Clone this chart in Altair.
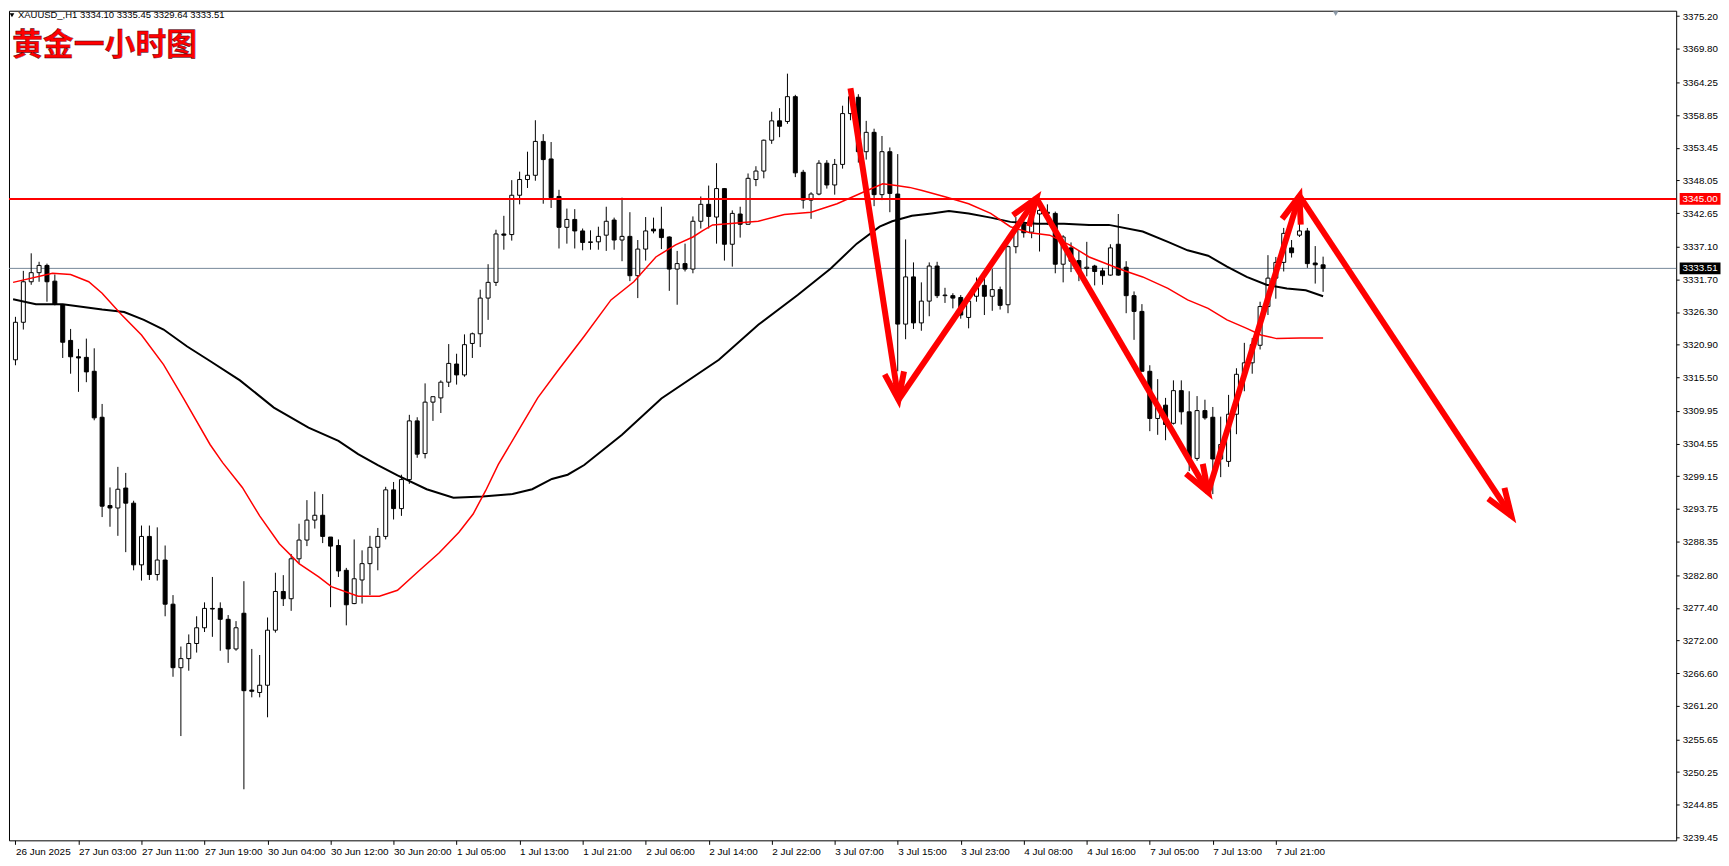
import math
import altair as alt
import pandas as pd

# ---------------- data (H1 candles, bar index 0..166) ----------------
opens = [3318.4, 3324.6, 3331.3, 3332.8, 3334.0, 3331.4, 3327.5, 3321.6, 3318.9, 3318.8,
         3316.5, 3308.9, 3294.3, 3293.9, 3297.2, 3294.7, 3284.5, 3289.2, 3282.9, 3285.3,
         3278.0, 3267.5, 3269.0, 3271.5, 3274.1, 3277.3, 3277.3, 3275.5, 3270.6, 3276.5,
         3263.8, 3263.4, 3264.6, 3273.7, 3280.1, 3278.9, 3285.5, 3288.6, 3291.9, 3292.7,
         3289.1, 3287.7, 3283.6, 3278.1, 3282.0, 3284.7, 3287.4, 3289.2, 3296.9, 3293.8,
         3298.6, 3308.3, 3302.9, 3311.4, 3312.1, 3314.7, 3317.7, 3315.9, 3321.1, 3322.7,
         3328.6, 3331.2, 3339.2, 3339.1, 3345.6, 3348.2, 3348.9, 3354.5, 3351.6, 3345.4,
         3340.3, 3341.6, 3339.7, 3337.8, 3337.9, 3339.0, 3341.5, 3338.2, 3338.8, 3332.3,
         3336.7, 3340.0, 3340.0, 3338.7, 3333.4, 3334.3, 3333.4, 3341.3, 3344.1, 3342.0,
         3346.7, 3337.5, 3342.5, 3340.8, 3348.2, 3349.6, 3354.7, 3357.9, 3357.8, 3361.9,
         3349.4, 3344.8, 3345.8, 3350.9, 3347.3, 3350.7, 3359.1, 3361.8, 3352.8, 3356.0,
         3345.7, 3352.8, 3345.8, 3324.3, 3332.1, 3324.5, 3328.1, 3333.9, 3329.0, 3329.0,
         3328.7, 3325.4, 3328.9, 3330.7, 3328.9, 3330.0, 3327.5, 3337.1, 3340.8, 3339.5,
         3342.5, 3342.8, 3342.6, 3334.2, 3336.9, 3334.8, 3333.5, 3333.9, 3333.1, 3332.4,
         3337.5, 3333.7, 3329.0, 3326.4, 3316.5, 3308.7, 3310.9, 3307.9, 3313.3, 3309.8,
         3302.1, 3310.0, 3308.9, 3302.0, 3301.6, 3309.4, 3316.0, 3317.9, 3320.8, 3327.2,
         3331.9, 3334.5, 3336.9, 3339.0, 3339.7, 3334.4, 3334.10]
highs = [3325.5, 3333.1, 3336.0, 3334.6, 3334.3, 3332.5, 3327.6, 3323.5, 3320.2, 3321.9,
         3320.3, 3311.1, 3297.3, 3300.7, 3299.7, 3295.1, 3291.0, 3291.0, 3290.7, 3287.7,
         3279.5, 3271.0, 3273.0, 3276.0, 3278.3, 3282.5, 3278.3, 3276.2, 3275.2, 3281.8,
         3270.6, 3269.6, 3275.8, 3283.2, 3282.8, 3286.3, 3291.3, 3295.2, 3296.6, 3296.2,
         3289.1, 3288.7, 3284.0, 3288.7, 3286.9, 3289.3, 3290.6, 3297.4, 3298.2, 3299.4,
         3309.3, 3308.9, 3314.5, 3312.3, 3315.0, 3321.0, 3319.4, 3322.6, 3322.9, 3330.0,
         3334.2, 3339.9, 3342.2, 3348.1, 3349.5, 3352.8, 3358.0, 3355.7, 3354.4, 3346.5,
         3343.4, 3343.3, 3340.1, 3339.8, 3340.4, 3343.7, 3341.9, 3345.2, 3342.8, 3338.2,
         3342.0, 3341.9, 3343.7, 3338.8, 3336.4, 3337.6, 3342.1, 3345.4, 3347.2, 3350.9,
         3346.8, 3343.1, 3343.7, 3349.2, 3350.4, 3354.8, 3359.4, 3360.0, 3365.7, 3362.2,
         3349.8, 3346.1, 3351.4, 3351.4, 3351.6, 3360.4, 3363.0, 3362.3, 3357.9, 3356.6,
         3355.4, 3353.5, 3352.4, 3338.3, 3334.5, 3331.2, 3334.5, 3334.6, 3330.3, 3329.4,
         3329.1, 3328.9, 3332.0, 3332.4, 3333.4, 3330.5, 3337.3, 3342.0, 3341.5, 3345.0,
         3344.2, 3344.1, 3342.9, 3339.0, 3337.8, 3336.4, 3337.9, 3334.1, 3333.6, 3337.5,
         3342.5, 3334.7, 3329.7, 3327.6, 3317.5, 3315.2, 3312.1, 3315.0, 3315.0, 3313.2,
         3312.4, 3311.8, 3310.6, 3309.0, 3312.6, 3317.0, 3321.2, 3322.0, 3328.0, 3335.7,
         3335.4, 3340.2, 3338.2, 3344.5, 3340.2, 3337.2, 3335.45]
lows = [3317.5, 3323.4, 3330.8, 3331.3, 3328.0, 3327.4, 3318.7, 3316.1, 3313.1, 3314.7,
        3308.4, 3292.4, 3290.8, 3289.3, 3286.6, 3283.6, 3281.9, 3282.0, 3281.9, 3276.0,
        3266.0, 3256.2, 3267.0, 3270.0, 3273.4, 3272.6, 3270.3, 3268.3, 3270.3, 3247.4,
        3262.6, 3262.6, 3259.3, 3273.3, 3277.7, 3276.9, 3284.7, 3287.6, 3290.5, 3288.1,
        3277.5, 3282.5, 3274.5, 3278.0, 3278.1, 3279.5, 3283.6, 3288.7, 3292.0, 3292.6,
        3297.9, 3302.2, 3302.1, 3308.3, 3309.6, 3313.9, 3314.3, 3315.6, 3318.7, 3320.5,
        3325.0, 3330.6, 3336.6, 3338.1, 3344.1, 3346.8, 3348.0, 3344.2, 3343.5, 3336.8,
        3337.6, 3336.8, 3336.5, 3336.6, 3336.6, 3336.4, 3336.6, 3334.7, 3331.4, 3328.6,
        3334.8, 3339.3, 3336.7, 3329.8, 3327.5, 3333.0, 3332.7, 3340.1, 3340.1, 3337.6,
        3334.8, 3333.8, 3338.6, 3340.8, 3347.1, 3348.4, 3354.1, 3355.2, 3357.4, 3348.6,
        3343.4, 3341.7, 3345.6, 3346.7, 3345.7, 3350.0, 3358.0, 3351.0, 3351.5, 3343.8,
        3344.8, 3342.8, 3316.5, 3321.8, 3323.5, 3323.2, 3325.6, 3328.6, 3327.8, 3326.9,
        3325.2, 3323.6, 3328.0, 3325.8, 3326.5, 3326.7, 3326.1, 3336.0, 3338.6, 3338.5,
        3336.3, 3340.7, 3332.7, 3331.2, 3332.9, 3331.4, 3332.2, 3330.7, 3330.8, 3332.3,
        3332.3, 3326.1, 3321.7, 3316.5, 3306.6, 3306.0, 3305.1, 3307.7, 3307.7, 3300.0,
        3301.7, 3308.5, 3296.2, 3299.0, 3300.7, 3306.1, 3313.2, 3316.1, 3320.1, 3325.8,
        3328.5, 3333.0, 3335.3, 3338.7, 3333.6, 3331.0, 3329.64]
closes = [3324.6, 3331.3, 3332.8, 3334.0, 3331.3, 3327.6, 3321.3, 3318.9, 3318.7, 3316.4,
          3308.8, 3294.2, 3293.9, 3297.0, 3294.7, 3284.5, 3289.2, 3282.9, 3285.3, 3278.0,
          3267.5, 3269.0, 3271.5, 3274.1, 3277.3, 3277.2, 3275.5, 3270.6, 3274.1, 3263.7,
          3263.6, 3264.6, 3273.7, 3280.1, 3278.9, 3285.5, 3288.6, 3291.9, 3292.7, 3289.2,
          3287.6, 3283.5, 3277.9, 3282.2, 3284.7, 3287.4, 3289.2, 3296.9, 3293.8, 3298.6,
          3308.3, 3302.8, 3311.4, 3312.3, 3314.7, 3317.8, 3315.9, 3320.9, 3322.7, 3328.6,
          3331.2, 3339.2, 3339.0, 3345.6, 3348.2, 3348.9, 3354.5, 3351.5, 3345.2, 3340.3,
          3341.6, 3339.7, 3337.8, 3337.9, 3338.8, 3341.3, 3338.2, 3338.8, 3332.3, 3336.7,
          3339.7, 3339.7, 3338.6, 3333.4, 3334.3, 3333.4, 3341.3, 3344.1, 3342.1, 3346.7,
          3337.5, 3342.6, 3340.8, 3348.4, 3349.6, 3354.7, 3357.9, 3357.0, 3361.9, 3349.3,
          3344.8, 3345.8, 3350.9, 3347.3, 3350.7, 3359.1, 3361.9, 3352.8, 3356.0, 3345.7,
          3352.8, 3345.9, 3324.3, 3332.1, 3324.5, 3328.1, 3333.9, 3329.0, 3329.1, 3328.6,
          3325.8, 3328.1, 3330.3, 3328.9, 3330.0, 3327.4, 3337.1, 3340.5, 3339.4, 3342.0,
          3343.1, 3342.6, 3334.2, 3338.7, 3334.7, 3333.0, 3333.7, 3333.0, 3332.3, 3336.9,
          3332.4, 3329.0, 3326.4, 3316.5, 3308.7, 3311.0, 3307.7, 3313.3, 3309.8, 3302.1,
          3310.0, 3308.8, 3302.0, 3304.4, 3309.4, 3316.0, 3317.9, 3320.9, 3327.2, 3331.9,
          3334.5, 3339.3, 3336.1, 3339.7, 3334.3, 3334.1, 3333.51]

# moving averages (bar index, price)
red_ma_bar = [-0.3, 4.7, 7.0, 9.3, 11.0, 13.5, 16.0, 18.8, 21.3, 24.7, 26.3, 28.8, 31.0, 33.5,
              36.0, 38.5, 40.1, 43.5, 46.2, 48.5, 51.3, 53.8, 56.3, 58.1, 59.7, 61.3, 63.8,
              66.3, 68.8, 72.2, 75.6, 78.5, 81.3, 83.8, 86.0, 87.2, 88.5, 94.3, 97.6, 101.0,
              104.3, 107.6, 110.1, 111.8, 113.5, 115.1, 118.1, 121.0, 123.8, 126.3, 128.8,
              131.3, 133.8, 136.3, 140.6, 143.1, 146.3, 148.8, 151.4, 153.8, 156.3, 158.1,
              160.1, 163.1, 166.0]
red_ma_val = [3331.2, 3332.7, 3332.5, 3331.3, 3329.4, 3325.8, 3322.5, 3317.6, 3312.1, 3304.4,
              3301.4, 3297.3, 3292.6, 3288.0, 3284.7, 3282.5, 3280.9, 3279.3, 3279.3, 3280.3,
              3283.6, 3286.5, 3289.9, 3292.9, 3296.8, 3301.1, 3306.6, 3312.1, 3316.5, 3322.3,
              3328.3, 3331.3, 3335.4, 3337.4, 3338.7, 3339.7, 3340.7, 3341.3, 3342.4, 3342.8,
              3344.2, 3346.1, 3347.5, 3347.2, 3346.9, 3346.4, 3345.3, 3344.2, 3342.6, 3340.4,
              3339.4, 3339.0, 3337.4, 3335.4, 3333.2, 3332.1, 3330.2, 3328.3, 3326.9, 3325.0,
              3323.6, 3322.5, 3321.9, 3322.0, 3322.0]
black_ma_bar = [-0.3, 2.6, 6.0, 11.0, 13.8, 16.3, 18.8, 21.8, 24.7, 28.5, 32.8, 37.2, 41.0,
                43.5, 46.0, 48.5, 52.2, 55.6, 59.3, 63.1, 65.6, 68.1, 70.1, 72.2, 77.0, 82.0,
                89.3, 94.3, 99.3, 103.5, 106.8, 109.7, 111.3, 113.8, 116.3, 118.5, 121.0,
                123.8, 126.3, 129.7, 133.1, 136.3, 138.8, 143.1, 146.3, 148.8, 151.4, 153.8,
                156.3, 158.8, 161.4, 163.8, 166.0]
black_ma_val = [3328.4, 3327.6, 3327.6, 3326.7, 3326.3, 3325.0, 3323.4, 3320.6, 3318.2, 3315.0,
                3310.5, 3307.2, 3305.0, 3302.8, 3301.0, 3299.3, 3297.0, 3295.6, 3295.8, 3296.2,
                3297.0, 3298.7, 3299.4, 3301.0, 3306.0, 3312.0, 3318.4, 3324.2, 3329.1, 3333.5,
                3337.6, 3340.4, 3341.3, 3342.2, 3342.6, 3343.0, 3342.6, 3341.9, 3341.2, 3340.9,
                3340.9, 3340.7, 3340.7, 3339.6, 3337.9, 3336.5, 3335.6, 3333.8, 3332.1, 3330.8,
                3330.2, 3329.9, 3328.9]

tick_bars = [0, 8, 16, 24, 32, 40, 48, 56, 64, 72, 80, 88, 96, 104, 112, 120, 128, 136, 144, 152, 160]
tick_labels = ["26 Jun 2025", "27 Jun 03:00", "27 Jun 11:00", "27 Jun 19:00", "30 Jun 04:00",
               "30 Jun 12:00", "30 Jun 20:00", "1 Jul 05:00", "1 Jul 13:00", "1 Jul 21:00",
               "2 Jul 06:00", "2 Jul 14:00", "2 Jul 22:00", "3 Jul 07:00", "3 Jul 15:00",
               "3 Jul 23:00", "4 Jul 08:00", "4 Jul 16:00", "7 Jul 05:00", "7 Jul 13:00",
               "7 Jul 21:00"]
price_ticks = [3375.20, 3369.80, 3364.25, 3358.85, 3353.45, 3348.05, 3342.65, 3337.10, 3331.70,
               3326.30, 3320.90, 3315.50, 3309.95, 3304.55, 3299.15, 3293.75, 3288.35, 3282.80,
               3277.40, 3272.00, 3266.60, 3261.20, 3255.65, 3250.25, 3244.85, 3239.45]

level_price = 3345.00
last_price = 3333.51

# hand-drawn arrows (bar index / price)
arrow_x1 = [106.0, 112.1, 129.6, 151.4, 163.0]
arrow_y1 = [3363.3, 3311.8, 3345.1, 3296.5, 3345.5]
arrow_x2 = [112.1, 129.6, 151.4, 163.0, 189.9]
arrow_y2 = [3311.8, 3345.1, 3296.5, 3345.5, 3292.6]

header = "XAUUSD_,H1  3334.10 3335.45 3329.64 3333.51"
title_cn = "黄金一小时图"
shift_bar = 167.6

# ---------------- layout ----------------
W, H = 1674, 833
X_DOM = [-0.1885, 210.19]
Y_DOM = [3238.96, 3376.105]
FONT = "Liberation Sans"

px_bar = W / (X_DOM[1] - X_DOM[0])
px_val = H / (Y_DOM[1] - Y_DOM[0])

xs = alt.Scale(domain=X_DOM, nice=False, zero=False)
ys = alt.Scale(domain=Y_DOM, nice=False, zero=False)

label_expr = " : ".join(f"datum.value == {b} ? '{t}'" for b, t in zip(tick_bars, tick_labels)) + " : ''"
xaxis = alt.Axis(values=tick_bars, labelExpr=label_expr, title=None, grid=False, domain=False,
                 tickSize=4, tickColor="black", labelAlign="left", labelPadding=2,
                 labelFont=FONT, labelFontSize=10, labelColor="black", labelOverlap=False,
                 labelFlush=False)
yaxis = alt.Axis(values=price_ticks, format=".2f", orient="right", title=None, grid=False,
                 domain=False, tickSize=3, tickColor="black", labelPadding=3, labelFont=FONT,
                 labelFontSize=9.8, labelColor="black", labelOverlap=False, labelFlush=False)


def X(field):
    return alt.X(field, type="quantitative", scale=xs, axis=xaxis)


def Y(field):
    return alt.Y(field, type="quantitative", scale=ys, axis=yaxis)


candles = pd.DataFrame({"i": list(range(len(opens))), "o": opens, "h": highs, "l": lows, "c": closes})
red_df = pd.DataFrame({"i": red_ma_bar, "v": red_ma_val})
black_df = pd.DataFrame({"i": black_ma_bar, "v": black_ma_val})

ang = []
for a, b, c, d in zip(arrow_x1, arrow_y1, arrow_x2, arrow_y2):
    ang.append(math.degrees(math.atan2((c - a) * px_bar, (d - b) * px_val)) % 360)
arrows = pd.DataFrame({"x1": arrow_x1, "y1": arrow_y1, "x2": arrow_x2, "y2": arrow_y2, "ang": ang})

base = alt.Chart(candles)

last_line = alt.Chart(pd.DataFrame({"p": [last_price]})).mark_rule(
    color="#778899", strokeWidth=1).encode(y=Y("p"))

wicks = base.mark_rule(color="black", strokeWidth=1, clip=True).encode(x=X("i"), y=Y("l"), y2="h")
bodies = base.mark_bar(size=4, stroke="black", strokeWidth=1, clip=True).encode(
    x=X("i"), y=Y("o"), y2="c",
    fill=alt.condition("datum.c >= datum.o", alt.value("white"), alt.value("black")))

black_ma = alt.Chart(black_df).mark_line(color="black", strokeWidth=2, clip=True).encode(
    x=X("i"), y=Y("v"))
red_ma = alt.Chart(red_df).mark_line(color="#ff0000", strokeWidth=1.5, clip=True).encode(
    x=X("i"), y=Y("v"))

level = alt.Chart(pd.DataFrame({"p": [level_price]})).mark_rule(
    color="#ff0000", strokeWidth=2).encode(y=Y("p"))

shafts = alt.Chart(arrows).mark_rule(color="#ff0000", strokeWidth=6, strokeCap="butt").encode(
    x=X("x1"), y=Y("y1"), x2="x2", y2="y2")
heads = alt.Chart(arrows).mark_point(
    shape="M -0.36 1 L 0 0 L 0.36 1", filled=False, size=2970, stroke="#ff0000",
    strokeWidth=6, opacity=1, strokeJoin="miter", strokeCap="butt").encode(
    x=X("x2"), y=Y("y2"), angle=alt.Angle("ang:Q", scale=None))

tags = pd.DataFrame({"p": [level_price, last_price], "bg": ["#ff0000", "black"],
                     "t": [f"{level_price:.2f}", f"{last_price:.2f}"]})
tag_box = alt.Chart(tags).mark_point(
    shape="M -1 -0.29 L 1 -0.29 L 1 0.29 L -1 0.29 Z", filled=True, size=1681, opacity=1).encode(
    x=alt.value(W + 24), y=Y("p"), fill=alt.Fill("bg:N", scale=None))
tag_txt = alt.Chart(tags).mark_text(font=FONT, fontSize=9.8, color="white", align="center",
                                    baseline="middle").encode(
    x=alt.value(W + 24), y=Y("p"), text="t:N")

hdr_marker = alt.Chart(pd.DataFrame({"k": [0]})).mark_point(
    shape="triangle-down", filled=True, size=22, color="black", opacity=1).encode(
    x=alt.value(3), y=alt.value(4.5))
hdr = alt.Chart(pd.DataFrame({"t": [header]})).mark_text(
    font=FONT, fontSize=9.5, color="black", align="left", baseline="middle").encode(
    x=alt.value(9), y=alt.value(4.5), text="t:N")
cn = alt.Chart(pd.DataFrame({"t": [title_cn]})).mark_text(
    font="Noto Sans CJK SC", fontSize=31, fontWeight="bold", color="#ff0000", align="left",
    baseline="middle", stroke="#300010", strokeWidth=0.4).encode(
    x=alt.value(3), y=alt.value(35.5), text="t:N")
shift_marker = alt.Chart(pd.DataFrame({"i": [shift_bar]})).mark_point(
    shape="triangle-down", filled=True, size=30, color="#8c9aa8", opacity=1).encode(
    x=X("i"), y=alt.value(3))

chart = alt.layer(
    last_line, wicks, bodies, black_ma, red_ma, level, shafts, heads,
    tag_box, tag_txt, hdr_marker, hdr, cn, shift_marker
).properties(
    width=W, height=H, padding={"left": 0, "top": 0, "right": 0, "bottom": 0},
    background="white"
).configure_view(stroke="black", strokeWidth=1)

chart.save("out.html", embed_options={"renderer": "svg", "actions": False})
